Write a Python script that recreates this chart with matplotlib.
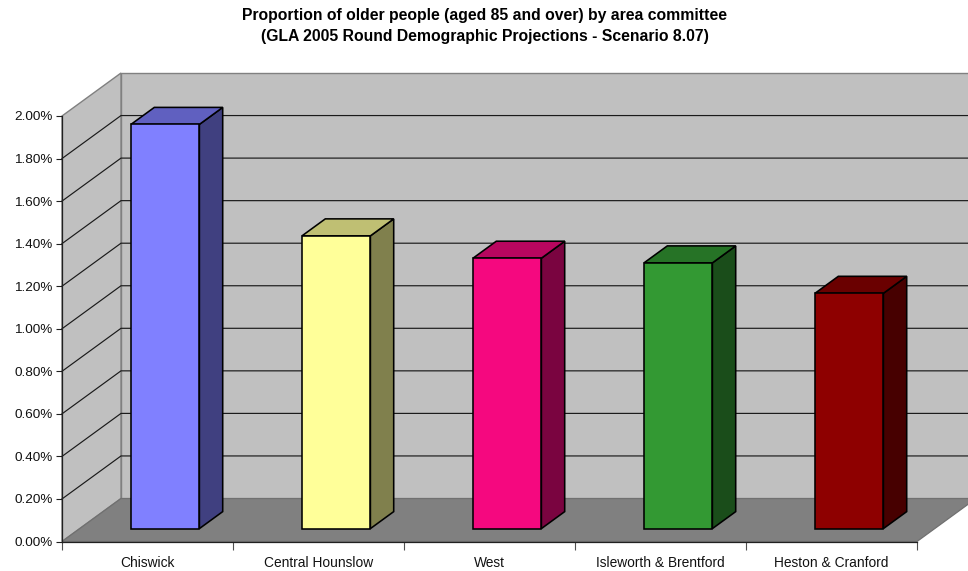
import matplotlib
matplotlib.use("Agg")
import matplotlib.pyplot as plt
from matplotlib.patches import Polygon

plt.rcParams["font.family"] = ["Liberation Sans", "DejaVu Sans"]

categories = ["Chiswick", "Central Hounslow", "West", "Isleworth & Brentford", "Heston & Cranford"]
values = [1.90, 1.376, 1.271, 1.249, 1.106]
face_colors = ["#8080FF", "#FFFF99", "#F5087F", "#339933", "#8E0000"]
top_colors = ["#6060C0", "#BFBF73", "#B8065F", "#267326", "#6A0000"]
side_colors = ["#404080", "#80804D", "#7A0440", "#1A4D1A", "#470000"]
y_ticks = [0.0, 0.2, 0.4, 0.6, 0.8, 1.0, 1.2, 1.4, 1.6, 1.8, 2.0]

W, H = 968, 571
fig = plt.figure(figsize=(W / 100, H / 100), dpi=100, facecolor="white")
ax = fig.add_axes([62 / W, (H - 541.5) / H, (917 - 62) / W, (541.5 - 116) / H])
ax.set_xlim(0, 5)
ax.set_ylim(0, 2)
ax.patch.set_visible(False)

# Oblique depth of the chart box, in data units
DX = 59 / 171
DY = 43 / 212.75
BAR_WIDTH = 0.4
BAR_FRONT = 0.3
BAR_DEPTH = 0.395


def shifted(x, y, depth):
    return (x + depth * DX, y + depth * DY)


def poly(points, **kw):
    ax.add_patch(Polygon(points, closed=True, clip_on=False, **kw))


WALL = "#C0C0C0"
EDGE = "#808080"
# back wall, left wall, floor
poly([shifted(0, 0, 1), shifted(5, 0, 1), shifted(5, 2, 1), shifted(0, 2, 1)],
     facecolor=WALL, edgecolor=EDGE, lw=1.0, zorder=1)
poly([(0, 0), shifted(0, 0, 1), shifted(0, 2, 1), (0, 2)],
     facecolor=WALL, edgecolor=EDGE, lw=1.0, zorder=1)
for v in y_ticks[1:-1]:
    ax.plot([0, DX, 5 + DX], [v, v + DY, v + DY], color="#1a1a1a", lw=0.85,
            clip_on=False, zorder=2, solid_joinstyle="miter")
poly([(0, 0), (5, 0), shifted(5, 0, 1), shifted(0, 0, 1)],
     facecolor=EDGE, edgecolor="#707070", lw=0.9, zorder=3)

# Bars: front face, top face and right side
for i, (val, fc, tc, sc) in enumerate(zip(values, face_colors, top_colors, side_colors)):
    x0 = i + 0.5 - BAR_WIDTH / 2
    x1 = x0 + BAR_WIDTH
    d0, d1 = BAR_FRONT, BAR_FRONT + BAR_DEPTH
    style = dict(edgecolor="black", lw=1.15, zorder=5, joinstyle="miter")
    poly([shifted(x1, 0, d0), shifted(x1, 0, d1), shifted(x1, val, d1), shifted(x1, val, d0)],
         facecolor=sc, **style)
    poly([shifted(x0, val, d0), shifted(x1, val, d0), shifted(x1, val, d1), shifted(x0, val, d1)],
         facecolor=tc, **style)
    poly([shifted(x0, 0, d0), shifted(x1, 0, d0), shifted(x1, val, d0), shifted(x0, val, d0)],
         facecolor=fc, **style)

# Axes and ticks
for s in ("top", "right"):
    ax.spines[s].set_visible(False)
for s in ("left", "bottom"):
    ax.spines[s].set_linewidth(0.9)
    ax.spines[s].set_color("#202020")
    ax.spines[s].set_zorder(6)
ax.set_yticks(y_ticks)
ax.set_yticklabels([f"{v:.2f}%" for v in y_ticks], fontsize=9.7, color="#111111")
ax.tick_params(axis="y", length=4.3, width=0.8, pad=2.5, color="#202020")
ax.set_xticks(range(6))
ax.set_xticklabels([])
ax.tick_params(axis="x", length=5.5, width=0.8, color="#505050")
ax.set_xticks([i + 0.5 for i in range(5)], minor=True)
ax.set_xticklabels(categories, minor=True, fontsize=9.9, color="#111111")
ax.tick_params(axis="x", which="minor", length=0, pad=10.5)

fig.text(484.5 / W, 1 - 15.5 / H,
         "Proportion of older people (aged 85 and over) by area committee",
         ha="center", va="center", fontsize=11.35, fontweight="bold", color="black")
fig.text(484.5 / W, 1 - 36 / H,
         "(GLA 2005 Round Demographic Projections - Scenario 8.07)",
         ha="center", va="center", fontsize=11.35, fontweight="bold", color="black")

fig.savefig("out.png", dpi=100, facecolor="white")
